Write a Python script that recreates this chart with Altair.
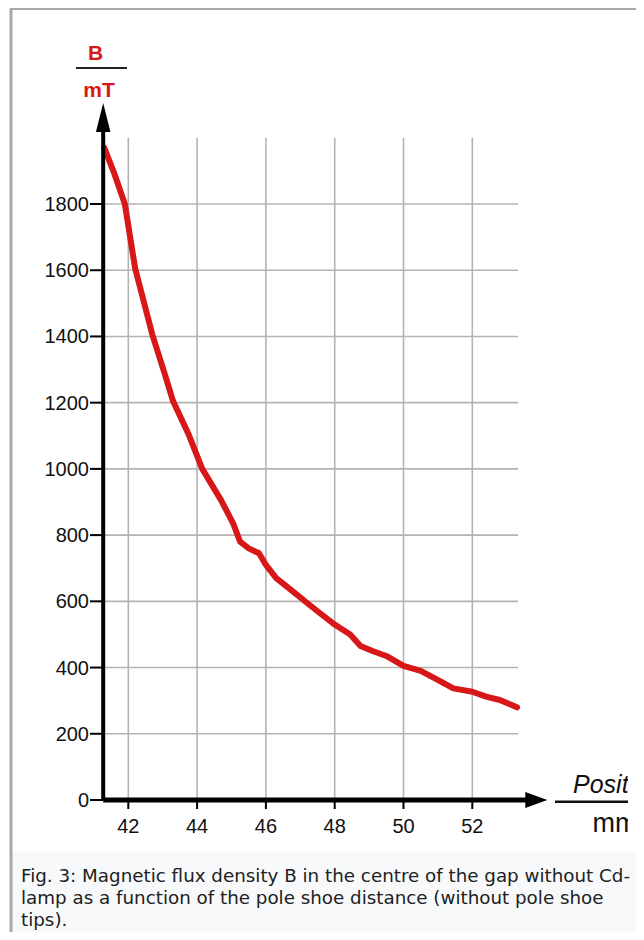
import altair as alt
import pandas as pd

# ---- data ----
pos_mm = [41.3, 41.6, 41.9, 42.2, 42.7, 43.05, 43.3, 43.75, 44.15, 44.7, 45.05, 45.25,
          45.5, 45.8, 46.0, 46.3, 46.6, 46.9, 47.2, 47.5, 48.0, 48.45, 48.75, 49.1,
          49.5, 50.0, 50.5, 50.9, 51.45, 52.0, 52.4, 52.8, 53.3]
b_mT = [1970, 1890, 1800, 1605, 1405, 1290, 1205, 1105, 1000, 905, 835, 780,
        760, 745, 710, 670, 645, 620, 595, 570, 530, 500, 465, 450,
        435, 405, 390, 368, 337, 327, 312, 302, 280]
x_ticks = [42, 44, 46, 48, 50, 52]
y_ticks = [0, 200, 400, 600, 800, 1000, 1200, 1400, 1600, 1800]
y_title = ["B", "mT"]
x_title = ["Position", "mm"]
caption_lines = [
    "Fig. 3: Magnetic flux density B in the centre of the gap without Cd-",
    "lamp as a function of the pole shoe distance (without pole shoe",
    "tips).",
]

# axis extents (data units)
X_MIN, X_GRID_MAX, X_ARROW_BASE, X_ARROW_TIP = 41.27, 53.33, 53.55, 54.17
Y_GRID_MAX, Y_ARROW_BASE, Y_ARROW_TIP = 2000, 2018, 2105

FONT = "Liberation Sans, Arial, Helvetica, sans-serif"
GRID = "#b3b3b3"
RED = "#d81818"

W, H = 620, 924

xs = alt.Scale(domain=[42, 52], range=[120.3, 464.3], zero=False, nice=False)
ys = alt.Scale(domain=[0, 1800], range=[792, 196], zero=False, nice=False)

curve = pd.DataFrame({"x": pos_mm, "y": b_mT})
vgrid = pd.DataFrame({"x": x_ticks, "y0": [0] * len(x_ticks), "y1": [Y_GRID_MAX] * len(x_ticks)})
hgrid = pd.DataFrame({"y": y_ticks[1:], "x0": [X_MIN] * (len(y_ticks) - 1),
                      "x1": [X_GRID_MAX] * (len(y_ticks) - 1)})
xlab = pd.DataFrame({"x": x_ticks, "t": [str(v) for v in x_ticks]})
ylab = pd.DataFrame({"y": y_ticks, "t": [str(v) for v in y_ticks]})
yaxis = pd.DataFrame({"x": [X_MIN], "y0": [0], "y1": [Y_ARROW_BASE + 10]})
xaxis = pd.DataFrame({"y": [0], "x0": [X_MIN], "x1": [X_ARROW_BASE + 0.1]})
yhead = pd.DataFrame({"x": [X_MIN], "y": [(Y_ARROW_BASE + Y_ARROW_TIP) / 2]})
xhead = pd.DataFrame({"y": [0], "x": [(X_ARROW_BASE + X_ARROW_TIP) / 2]})
one = pd.DataFrame({"a": [0]})

X = lambda f: alt.X(f, type="quantitative", scale=xs, axis=None)
Y = lambda f: alt.Y(f, type="quantitative", scale=ys, axis=None)

caption_bg = alt.Chart(one).mark_rect(color="#f8f9fa").encode(
    x=alt.value(4), x2=alt.value(W + 8), y=alt.value(844), y2=alt.value(H))
frame_left = alt.Chart(one).mark_rule(color="#a9a9a9", strokeWidth=3).encode(
    x=alt.value(3), y=alt.value(0), y2=alt.value(H))
frame_top = alt.Chart(one).mark_rule(color="#a9a9a9", strokeWidth=2).encode(
    x=alt.value(2), x2=alt.value(W + 8), y=alt.value(1))

vg = alt.Chart(vgrid).mark_rule(color=GRID, strokeWidth=1.6).encode(
    x=X("x"), y=Y("y0"), y2="y1")
hg = alt.Chart(hgrid).mark_rule(color=GRID, strokeWidth=1.6).encode(
    y=Y("y"), x=X("x0"), x2="x1")

line = alt.Chart(curve).mark_line(color=RED, strokeWidth=6, strokeCap="round",
                                  strokeJoin="round").encode(x=X("x"), y=Y("y"))

ya = alt.Chart(yaxis).mark_rule(color="black", strokeWidth=4).encode(
    x=X("x"), y=Y("y0"), y2="y1")
xa = alt.Chart(xaxis).mark_rule(color="black", strokeWidth=5).encode(
    y=Y("y"), x=X("x0"), x2="x1")
yh = alt.Chart(yhead).mark_point(shape="M0,-1L0.5,1L-0.5,1Z", size=841, filled=True,
                                 color="black", opacity=1, strokeWidth=0).encode(
    x=X("x"), y=Y("y"))
xh = alt.Chart(xhead).mark_point(shape="M1,0L-1,-0.72L-1,0.72Z", size=484, filled=True,
                                 color="black", opacity=1, strokeWidth=0).encode(
    x=X("x"), y=Y("y"))

ytk = alt.Chart(ylab).mark_rule(color="black", strokeWidth=2).encode(
    y=Y("y"), x=alt.value(82), x2=alt.value(95))
xtk = alt.Chart(xlab).mark_rule(color="black", strokeWidth=2).encode(
    x=X("x"), y=alt.value(793), y2=alt.value(801))

ylt = alt.Chart(ylab).mark_text(align="right", baseline="middle", font=FONT, fontSize=20,
                                color="#111111", dy=1).encode(
    y=Y("y"), x=alt.value(81), text="t:N")
xlt = alt.Chart(xlab).mark_text(align="center", baseline="alphabetic", font=FONT, fontSize=20,
                                color="#111111").encode(
    x=X("x"), y=alt.value(825), text="t:N")

yt1 = alt.Chart(one).mark_text(align="center", baseline="alphabetic", font=FONT, fontSize=21,
                               fontWeight="bold", color=RED).encode(
    x=alt.value(87.5), y=alt.value(52), text=alt.value(y_title[0]))
yt2 = alt.Chart(one).mark_text(align="center", baseline="alphabetic", font=FONT, fontSize=21,
                               fontWeight="bold", color=RED).encode(
    x=alt.value(91), y=alt.value(89), text=alt.value(y_title[1]))
ytl = alt.Chart(one).mark_rule(color="#222222", strokeWidth=2).encode(
    x=alt.value(68), x2=alt.value(119), y=alt.value(60))

xt1 = alt.Chart(one).mark_text(align="left", baseline="alphabetic", font=FONT, fontSize=25,
                               fontStyle="italic", color="#111111", clip=True).encode(
    x=alt.value(565), y=alt.value(785), text=alt.value(x_title[0]))
xt2 = alt.Chart(one).mark_text(align="center", baseline="alphabetic", font=FONT, fontSize=27,
                               color="#111111", clip=True).encode(
    x=alt.value(607), y=alt.value(824), text=alt.value(x_title[1]))
xtl = alt.Chart(one).mark_rule(color="#111111", strokeWidth=2.5, clip=True).encode(
    x=alt.value(547), x2=alt.value(672), y=alt.value(793.7))

cap = alt.Chart(one).mark_text(align="left", baseline="alphabetic", font="DejaVu Sans",
                               fontSize=18.3, lineHeight=22.3, color="#202122").encode(
    x=alt.value(13), y=alt.value(873.5), text=alt.value(caption_lines))

chart = alt.layer(
    caption_bg, frame_left, frame_top, vg, hg, line, ya, xa, yh, xh, ytk, xtk,
    ylt, xlt, yt1, yt2, ytl, xt1, xt2, xtl, cap
).properties(
    width=W, height=H, autosize="none",
    padding={"left": 0, "top": 0, "right": 8, "bottom": 0},
    background="white",
).configure_view(stroke=None)

chart.save("out.html", embed_options={"renderer": "svg", "actions": False})
